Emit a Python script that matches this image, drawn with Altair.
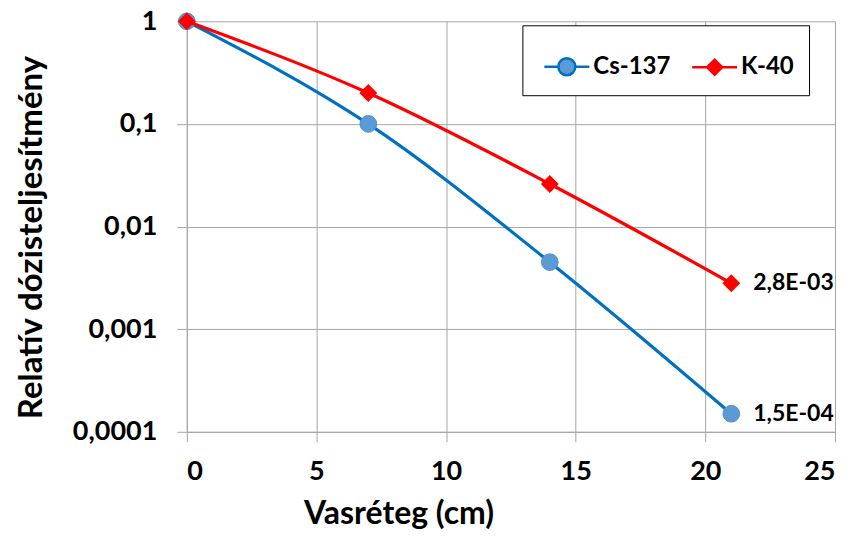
import altair as alt
import pandas as pd

# ---- data ----
thickness = [0, 7, 14, 21]
cs137 = [1.0, 0.1, 0.0045, 0.00015]
k40 = [1.0, 0.2, 0.026, 0.0028]
cs_labels = ["", "", "", "1,5E-04"]
k_labels = ["", "", "", "2,8E-03"]
series = ["Cs-137", "K-40"]
y_ticks = [1, 0.1, 0.01, 0.001, 0.0001]
x_ticks = [0, 5, 10, 15, 20, 25]

BLUE_LINE = "#0070C0"
BLUE_FILL = "#5B9BD5"
RED = "#FF0000"
GRID = "#A6A6A6"
FONT = "Lato"

rows = []
for xv, yv, lb in zip(thickness, cs137, cs_labels):
    rows.append({"x": xv, "y": yv, "series": series[0], "label": lb})
for xv, yv, lb in zip(thickness, k40, k_labels):
    rows.append({"x": xv, "y": yv, "series": series[1], "label": lb})
df = pd.DataFrame(rows)

xenc = alt.X(
    "x:Q",
    scale=alt.Scale(domain=[0, 25], nice=False, zero=False),
    axis=alt.Axis(
        values=x_ticks, title="Vasréteg (cm)", titleX=212, titleY=82,
        titleBaseline="middle", titleAlign="center", titleFontSize=32,
        labelBaseline="middle", labelPadding=30, tickSize=10,
    ),
)
yenc = alt.Y(
    "y:Q",
    scale=alt.Scale(type="log", domain=[0.0001, 1], nice=False),
    axis=alt.Axis(
        values=y_ticks, title="Relatív dózisteljesítmény",
        titleX=-155, titleY=216, titleAngle=-90, titleBaseline="middle", titleAlign="center",
        titleFontSize=33,
        labelExpr="replace(format(datum.value, '~f'), '.', ',')",
        labelPadding=20, tickSize=10,
    ),
)

base = alt.Chart(df)

cs_line = base.transform_filter(alt.datum.series == series[0]).mark_line(
    interpolate="monotone", strokeWidth=3.2, color=BLUE_LINE
).encode(x=xenc, y=yenc)
cs_pts = base.transform_filter(alt.datum.series == series[0]).mark_point(
    shape="circle", filled=True, size=280, color=BLUE_FILL, opacity=1,
    stroke="#4F91CF", strokeWidth=1
).encode(x=xenc, y=yenc)
k_line = base.transform_filter(alt.datum.series == series[1]).mark_line(
    interpolate="monotone", strokeWidth=3.2, color=RED
).encode(x=xenc, y=yenc)
k_pts = base.transform_filter(alt.datum.series == series[1]).mark_point(
    shape="diamond", filled=True, size=320, color=RED, opacity=1
).encode(x=xenc, y=yenc)

labels = base.transform_filter(alt.datum.label != "").mark_text(
    align="left", baseline="middle", dx=22, font=FONT, fontWeight="bold",
    fontSize=23, color="black"
).encode(x=xenc, y=yenc, text="label:N")

# legend symbols: line with a marker, as custom paths (1 unit = 25 px)
circle_path = ("M-0.9,0H-0.34M0.34,0H0.9"
               "M-0.34,0A0.34,0.34,0,1,0,0.34,0A0.34,0.34,0,1,0,-0.34,0Z")
diamond_path = "M-0.9,0H-0.3M0.3,0H0.9M-0.3,0L0,-0.3L0.3,0L0,0.3Z"

leg = alt.Legend(
    title=None, orient="none", legendX=336, legendY=4, direction="horizontal",
    fillColor="white", strokeColor="black", padding=15,
    labelFont=FONT, labelFontWeight="bold", labelFontSize=24, labelColor="black",
    labelOffset=0, columnPadding=14, symbolSize=2500, symbolStrokeWidth=2.5,
    symbolOpacity=1, symbolOffset=3,
)
legend_layer = base.transform_filter("false").mark_point(
    filled=True, size=2500, strokeWidth=2.5, opacity=1
).encode(
    x=xenc, y=yenc,
    shape=alt.Shape("series:N", scale=alt.Scale(domain=series, range=[circle_path, diamond_path]), legend=leg),
    fill=alt.Fill("series:N", scale=alt.Scale(domain=series, range=[BLUE_FILL, RED]), legend=leg),
    stroke=alt.Stroke("series:N", scale=alt.Scale(domain=series, range=[BLUE_LINE, RED]), legend=leg),
)

chart = alt.layer(cs_line, cs_pts, k_line, k_pts, labels, legend_layer).properties(
    width=649, height=411,
    padding={"left": 179, "top": 13, "right": 10, "bottom": 102},
    autosize=alt.AutoSizeParams(type="none"),
).configure_view(stroke=None).configure_axis(
    gridColor=GRID, gridWidth=1, domainColor=GRID, tickColor=GRID,
    labelFont=FONT, labelFontWeight="bold", labelFontSize=27, labelColor="black",
    titleFont=FONT, titleFontWeight="bold", titleColor="black",
)

chart.save("out.html", embed_options={"renderer": "svg", "actions": False})
